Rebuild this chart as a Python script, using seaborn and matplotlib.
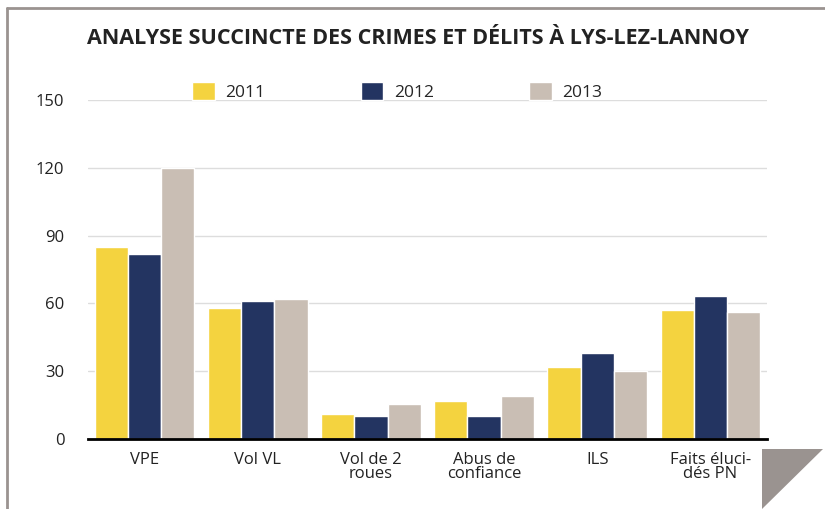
import matplotlib
matplotlib.use("Agg")
import matplotlib.pyplot as plt
import seaborn as sns
import pandas as pd
from matplotlib.lines import Line2D
from matplotlib.patches import Polygon

categories = ["VPE", "Vol VL", "Vol de 2\nroues", "Abus de\nconfiance", "ILS", "Faits éluci-\ndés PN"]
years = ["2011", "2012", "2013"]
v2011 = [85, 58, 11, 17, 32, 57]
v2012 = [82, 61, 10, 10, 38, 63.5]
v2013 = [120, 62, 15.5, 19, 30, 56]
yticks = [0, 30, 60, 90, 120, 150]
colors = ["#F4D33F", "#233461", "#C9BEB4"]

rows = []
for yr, vals in zip(years, [v2011, v2012, v2013]):
    for c, v in zip(categories, vals):
        rows.append({"cat": c, "year": yr, "val": v})
df = pd.DataFrame(rows)

sns.set_theme(style="white")
plt.rcParams["font.family"] = ["Open Sans", "DejaVu Sans"]

fig = plt.figure(figsize=(8.25, 5.09), dpi=100)
ax = fig.add_axes([0.1067, 0.1375, 0.823, 0.666])

sns.barplot(data=df, x="cat", y="val", hue="year", palette=colors, ax=ax,
            width=0.88, edgecolor="white", linewidth=1.0, saturation=1)

ax.set_ylim(0, 150)
ax.set_xlim(-0.5, len(categories) - 0.5)
ax.set_yticks(yticks)
ax.set_yticklabels([str(t) for t in yticks], fontsize=12, color="#222222")
ax.tick_params(axis="y", length=0, pad=17)
ax.tick_params(axis="x", length=0, pad=9)
for lbl in ax.get_xticklabels():
    lbl.set_fontsize(12)
    lbl.set_color("#222222")
    lbl.set_linespacing(0.85)
ax.set_xlabel("")
ax.set_ylabel("")
ax.yaxis.grid(True, color="#DDDDDD", linewidth=1.0)
ax.set_axisbelow(True)
for s in ["top", "right", "left"]:
    ax.spines[s].set_visible(False)
ax.spines["bottom"].set_color("black")
ax.spines["bottom"].set_linewidth(2)

leg = ax.legend(loc="lower left", bbox_to_anchor=(0.141, 0.972), ncol=3, frameon=False,
                fontsize=12.5, handlelength=1.3, handleheight=1.3, handletextpad=0.6,
                columnspacing=5.5, borderaxespad=0.1)
for h in leg.legend_handles:
    h.set_edgecolor("white")

fig.text(0.507, 0.925, "ANALYSE SUCCINCTE DES CRIMES ET DÉLITS À LYS-LEZ-LANNOY",
         ha="center", va="center", fontsize=15.5, fontweight="bold", color="#222222")

# frame lines
fig.add_artist(Line2D([7/825, 7/825], [0, 1 - 8/509], color="#9a9390", linewidth=2,
                      transform=fig.transFigure))
fig.add_artist(Line2D([7/825, 1], [1 - 8/509, 1 - 8/509], color="#9a9390", linewidth=2,
                      transform=fig.transFigure))
fig.add_artist(Polygon([[762/825, 1 - 449/509], [823/825, 1 - 449/509], [762/825, 0]],
                       closed=True, facecolor="#9a9390", edgecolor="none",
                       transform=fig.transFigure))

fig.savefig("out.png", dpi=100)
